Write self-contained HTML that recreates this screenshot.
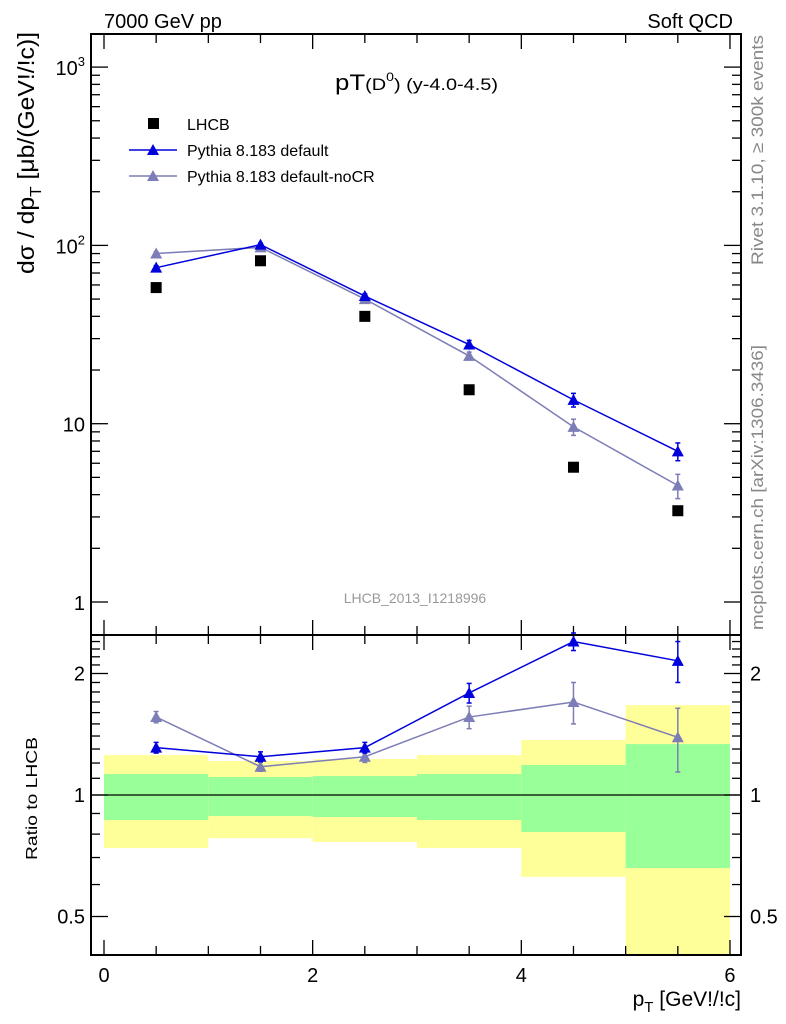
<!DOCTYPE html>
<html><head><meta charset="utf-8"><style>
body{margin:0;background:#fff;}
svg{display:block;font-family:"Liberation Sans",Arial,sans-serif;}
</style></head><body>
<svg id="c" width="786" height="1024" viewBox="0 0 786 1024">
<text x="104" y="28" font-size="20">7000 GeV pp</text>
<text x="733" y="28" font-size="20" text-anchor="end">Soft QCD</text>
<text x="335" y="90" font-size="22" textLength="163" lengthAdjust="spacingAndGlyphs">pT<tspan font-size="17">(D</tspan><tspan font-size="12" dy="-9">0</tspan><tspan font-size="17" dy="9">) (y-4.0-4.5)</tspan></text>
<text x="415" y="603" font-size="14" fill="#999" text-anchor="middle">LHCB_2013_I1218996</text>
<text transform="translate(763,265) rotate(-90)" font-size="17" fill="#888" textLength="230" lengthAdjust="spacingAndGlyphs">Rivet 3.1.10, ≥ 300k events</text>
<text transform="translate(763,630) rotate(-90)" font-size="17" fill="#888" textLength="285" lengthAdjust="spacingAndGlyphs">mcplots.cern.ch [arXiv:1306.3436]</text>
<text transform="translate(34,274) rotate(-90)" font-size="23" textLength="242" lengthAdjust="spacingAndGlyphs">dσ / dp<tspan font-size="16" dy="7">T</tspan><tspan dy="-7"> [μb/(GeV!/!c)]</tspan></text>
<text transform="translate(37,860) rotate(-90)" font-size="16" textLength="123" lengthAdjust="spacingAndGlyphs">Ratio to LHCB</text>
<text x="741" y="1006" font-size="21" text-anchor="end">p<tspan font-size="15" dy="6">T</tspan><tspan dy="-6"> [GeV!/!c]</tspan></text>
<g id="bands"></g><g id="ticks"></g><g id="marks"></g>
<rect x="91" y="34" width="650" height="601" fill="none" stroke="#000" stroke-width="2"/>
<rect x="91" y="635" width="650" height="320" fill="none" stroke="#000" stroke-width="2"/>
<g>
<rect x="148" y="118" width="11" height="11" fill="#000"/>
<text x="187" y="130" font-size="16">LHCB</text>
<line x1="129" y1="150" x2="177" y2="150" stroke="#0000dd" stroke-width="1.5"/>
<path d="M153,144 L159,155 L147,155Z" fill="#0000dd"/>
<text x="187" y="156" font-size="16">Pythia 8.183 default</text>
<line x1="129" y1="176" x2="177" y2="176" stroke="#7d7db7" stroke-width="1.5"/>
<path d="M153,170 L159,181 L147,181Z" fill="#7d7db7"/>
<text x="187" y="182" font-size="16">Pythia 8.183 default-noCR</text>
</g>
</svg>
<script>
const binEdges=[0,1,2,3,4,5,6];
const binCenters=[0.5,1.5,2.5,3.5,4.5,5.5];
const lhcb=[58,82,40,15.5,5.7,3.25];
const pyDef=[75,101,52,27.8,13.6,7.0];
const pyDefErr=[2,2,1.5,1.5,1.2,0.8];
const pyNoCR=[90,97.5,50,24,9.6,4.5];
const pyNoCRErr=[2,2,1.5,1.2,1.0,0.7];
const ratioDef=[1.31,1.244,1.31,1.79,2.40,2.15];
const ratioDefErr=[0.04,0.035,0.04,0.1,0.12,0.25];
const ratioNoCR=[1.56,1.175,1.244,1.56,1.70,1.39];
const ratioNoCRErr=[0.05,0.03,0.04,0.1,0.2,0.25];
const yellowHi=[1.256,1.214,1.228,1.256,1.368,1.67];
const yellowLo=[0.739,0.782,0.765,0.739,0.627,0.3];
const greenHi=[1.127,1.108,1.114,1.127,1.187,1.337];
const greenLo=[0.867,0.887,0.882,0.867,0.81,0.659];
const xTicks=[0,2,4,6];
const mainTicks=[1,10,100,1000];
const mainTickLabels=["1","10","10²","10³"];
const ratioTicks=[0.5,1,2];

const NS="http://www.w3.org/2000/svg";
const X=v=>104+v*104.33;
const Y=v=>602-Math.log10(v)*178.3;
const R=v=>795-Math.log2(v)*121.5;
function mk(p,t,a){const e=document.createElementNS(NS,t);for(const k in a)e.setAttribute(k,a[k]);document.getElementById(p).appendChild(e);return e;}
for(let i=0;i<6;i++){
 const x0=X(binEdges[i]),x1=X(binEdges[i+1]);
 let e=mk('bands','rect',{x:x0,y:R(yellowHi[i]),width:x1-x0,height:Math.min(954,R(yellowLo[i]))-R(yellowHi[i]),fill:'#ffff99'});
 
 
 e=mk('bands','rect',{x:x0,y:R(greenHi[i]),width:x1-x0,height:R(greenLo[i])-R(greenHi[i]),fill:'#99ff99'});
 
 
}
mk('bands','line',{x1:91,x2:741,y1:R(1),y2:R(1),stroke:'#000','stroke-width':1.2});
for(let v=0;v<=6;v+=0.5){
 const x=X(v),big=Number.isInteger(v/2),L=big?14:8;
 [[35,1],[634,-1],[636,1],[954,-1]].forEach(([y,d])=>mk('ticks','line',{x1:x,x2:x,y1:y,y2:y+d*L,stroke:'#000','stroke-width':1.3}));
}
xTicks.forEach(v=>{const t=mk('ticks','text',{x:X(v),y:982,'font-size':20,'text-anchor':'middle'});t.textContent=v;
 
 });
for(let d=0;d<4;d++)for(let m=1;m<10;m++){
 const v=m*Math.pow(10,d),y=Y(v);if(y<35||y>634)continue;
 const L=m===1?16:8;
 mk('ticks','line',{x1:92,x2:92+L,y1:y,y2:y,stroke:'#000','stroke-width':1.3});
 mk('ticks','line',{x1:740,x2:740-L,y1:y,y2:y,stroke:'#000','stroke-width':1.3});
}
for(let v=0.1;v<3;v+=0.1){const y=R(v);if(y<636||y>954)continue;
 const big=ratioTicks.some(t=>Math.abs(t-v)<1e-6);const L=big?16:8;
 mk('ticks','line',{x1:92,x2:92+L,y1:y,y2:y,stroke:'#000','stroke-width':1.3});
 mk('ticks','line',{x1:740,x2:740-L,y1:y,y2:y,stroke:'#000','stroke-width':1.3});}
mainTicks.forEach((v,i)=>{const t=mk('ticks','text',{x:85,y:Y(v)+8,'font-size':20,'text-anchor':'end'});
 const l=mainTickLabels[i];
 if(l.length===3){t.textContent='10';const s=document.createElementNS(NS,'tspan');s.setAttribute('font-size',13);s.setAttribute('dy',-9);s.textContent=l[2]==='²'?'2':'3';t.appendChild(s);}else t.textContent=l;
 
 });
ratioTicks.forEach(v=>{[[85,'end'],[750,'start']].forEach(([x,a])=>{const t=mk('ticks','text',{x:x,y:R(v)+7,'font-size':20,'text-anchor':a});t.textContent=v;
 
 });});
function series(vals,errs,fy,col,name){
 mk('marks','polyline',{points:binCenters.map((c,i)=>X(c)+','+fy(vals[i])).join(' '),fill:'none',stroke:col,'stroke-width':1.5});
 vals.forEach((v,i)=>{const x=X(binCenters[i]);
  const y1=fy(v+errs[i]),y2=fy(v-errs[i]);
  mk('marks','line',{x1:x,x2:x,y1:y1,y2:y2,stroke:col,'stroke-width':1.5});
  mk('marks','line',{x1:x-2.5,x2:x+2.5,y1:y1,y2:y1,stroke:col,'stroke-width':1.5});
  mk('marks','line',{x1:x-2.5,x2:x+2.5,y1:y2,y2:y2,stroke:col,'stroke-width':1.5});
  const y=fy(v);const p=mk('marks','path',{d:`M${x},${y-6}L${x+6},${y+5}L${x-6},${y+5}Z`,fill:col});
  
  });
}
series(pyNoCR,pyNoCRErr,Y,'#7d7db7','pythia-nocr-point');
series(pyDef,pyDefErr,Y,'#0000dd','pythia-default-point');
series(ratioNoCR,ratioNoCRErr,R,'#7d7db7','ratio-nocr-point');
series(ratioDef,ratioDefErr,R,'#0000dd','ratio-default-point');
lhcb.forEach((v,i)=>{const r=mk('marks','rect',{x:X(binCenters[i])-5.5,y:Y(v)-5.5,width:11,height:11,fill:'#000'});
 
 });
</script>
</body></html>
